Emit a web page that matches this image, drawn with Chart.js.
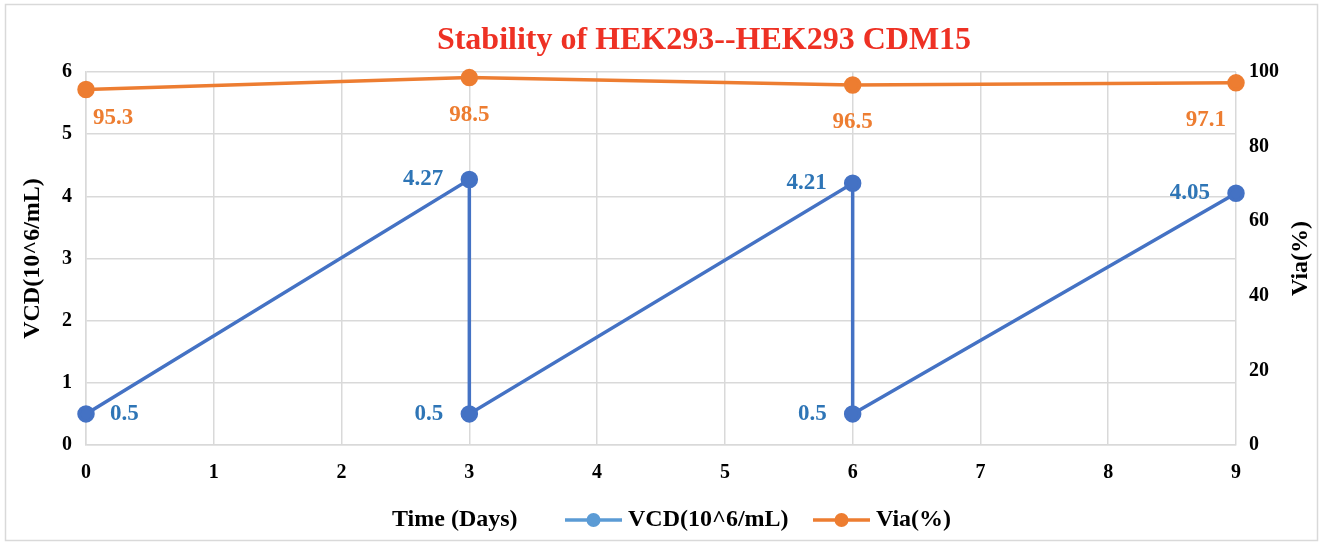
<!DOCTYPE html>
<html>
<head>
<meta charset="utf-8">
<script src="https://cdn.jsdelivr.net/npm/chart.js@4.4.1/dist/chart.umd.min.js"></script>
<style>
  body { margin: 0; background: #fff; }
</style>
</head>
<body>
<canvas id="stability" width="1322" height="542"></canvas>
<script>
// data
const vcdDays = [0, 3, 3, 6, 6, 9];
const vcdValues = [0.5, 4.27, 0.5, 4.21, 0.5, 4.05];
const viaDays = [0, 3, 6, 9];
const viaValues = [95.3, 98.5, 96.5, 97.1];
const dayTicks = [0, 1, 2, 3, 4, 5, 6, 7, 8, 9];

// where each data label sits relative to its point
const vcdLabelPos = ['right', 'left', 'left', 'left', 'left', 'left'];
const viaLabelPos = ['belowRight', 'below', 'below', 'belowLeft'];

const FONT = '"Liberation Serif", "Times New Roman", serif';
const BLUE = '#4472C4';
const BLUE_TXT = '#2E75B6';
const ORANGE = '#ED7D31';
const GRID = '#D9D9D9';

const toPoints = (xs, ys) => xs.map((x, i) => ({ x: x, y: ys[i] }));

// labels next to the points (no datalabels plugin offline)
const pointLabels = {
    id: 'pointLabels',
    afterDatasetsDraw(chart) {
        const ctx = chart.ctx;
        ctx.save();
        ctx.font = 'bold 23px ' + FONT;
        ctx.textBaseline = 'middle';
        chart.data.datasets.forEach((ds, di) => {
            const meta = chart.getDatasetMeta(di);
            meta.data.forEach((pt, i) => {
                const pos = ds.labelPos[i];
                let x = pt.x, y = pt.y;
                ctx.fillStyle = ds.labelColor;
                if (pos === 'right') { ctx.textAlign = 'left'; x += 24; }
                else if (pos === 'left') { ctx.textAlign = 'right'; x -= 26; }
                else if (pos === 'below') { ctx.textAlign = 'center'; y += 37; }
                else if (pos === 'belowRight') { ctx.textAlign = 'left'; x += 7; y += 29; }
                else if (pos === 'belowLeft') { ctx.textAlign = 'right'; x -= 10; y += 37; }
                ctx.fillText(String(ds.data[i].y), x, y);
            });
        });
        ctx.restore();
    }
};

// frame, title (sits right of centre in the original), right axis title,
// x-axis title and legend (same row, like in Excel)
const frameAndLegend = {
    id: 'frameAndLegend',
    beforeDraw(chart) {
        const ctx = chart.ctx;
        ctx.save();
        ctx.fillStyle = '#fff';
        ctx.fillRect(0, 0, chart.width, chart.height);
        ctx.strokeStyle = GRID;
        ctx.lineWidth = 1.5;
        ctx.strokeRect(5.5, 4.5, 1312, 536);
        ctx.restore();
    },
    afterDraw(chart) {
        const ctx = chart.ctx;
        const area = chart.chartArea;
        ctx.save();
        ctx.textBaseline = 'middle';

        ctx.font = 'bold 32px ' + FONT;
        ctx.fillStyle = '#EE3124';
        ctx.textAlign = 'center';
        ctx.fillText('Stability of HEK293--HEK293 CDM15', 704, 41);

        ctx.font = 'bold 24px ' + FONT;
        ctx.fillStyle = '#000';

        // right title reads bottom-to-top
        ctx.save();
        ctx.translate(1301, (area.top + area.bottom) / 2);
        ctx.rotate(-Math.PI / 2);
        ctx.textAlign = 'center';
        ctx.fillText('Via(%)', 0, 0);
        ctx.restore();

        const y = 520;
        ctx.textAlign = 'left';
        ctx.fillText('Time (Days)', 392, y);

        const items = [
            { text: 'VCD(10^6/mL)', color: '#5B9BD5', x: 565 },
            { text: 'Via(%)', color: ORANGE, x: 813 }
        ];
        items.forEach(it => {
            ctx.strokeStyle = it.color;
            ctx.lineWidth = 3.5;
            ctx.beginPath();
            ctx.moveTo(it.x, y);
            ctx.lineTo(it.x + 57, y);
            ctx.stroke();
            ctx.fillStyle = it.color;
            ctx.beginPath();
            ctx.arc(it.x + 28.5, y, 7, 0, Math.PI * 2);
            ctx.fill();
            ctx.fillStyle = '#000';
            ctx.fillText(it.text, it.x + 63, y);
        });
        ctx.restore();
    }
};

const ctx = document.getElementById('stability').getContext('2d');

const stabilityChart = new Chart(ctx, {
    type: 'line',
    data: {
        datasets: [
            {
                label: 'VCD(10^6/mL)',
                data: toPoints(vcdDays, vcdValues),
                yAxisID: 'y',
                borderColor: BLUE,
                backgroundColor: BLUE,
                borderWidth: 3.5,
                pointRadius: 7,
                pointHoverRadius: 7,
                tension: 0,
                clip: false,
                labelPos: vcdLabelPos,
                labelColor: BLUE_TXT
            },
            {
                label: 'Via(%)',
                data: toPoints(viaDays, viaValues),
                yAxisID: 'y1',
                borderColor: ORANGE,
                backgroundColor: ORANGE,
                borderWidth: 3.5,
                pointRadius: 7,
                pointHoverRadius: 7,
                tension: 0,
                clip: false,
                labelPos: viaLabelPos,
                labelColor: ORANGE
            }
        ]
    },
    options: {
        responsive: false,
        animation: false,
        layout: {
            padding: { top: 72, left: 0, right: 0, bottom: 57 }
        },
        plugins: {
            legend: { display: false },
            tooltip: { enabled: false },
            title: { display: false }
        },
        scales: {
            x: {
                type: 'linear',
                min: 0,
                max: 9,
                afterBuildTicks: s => { s.ticks = dayTicks.map(v => ({ value: v })); },
                afterFit: s => { s.height = 40; },
                grid: { color: GRID, lineWidth: 1.5, drawTicks: false },
                border: { color: GRID, width: 1.5 },
                ticks: {
                    color: '#000',
                    padding: 16,
                    font: { size: 20, weight: 'bold', family: FONT }
                }
            },
            y: {
                position: 'left',
                min: 0,
                max: 6,
                afterFit: s => { s.width = 86; },
                grid: { color: GRID, lineWidth: 1.5, drawTicks: false },
                border: { color: GRID, width: 1.5 },
                ticks: {
                    stepSize: 1,
                    color: '#000',
                    padding: 14,
                    font: { size: 20, weight: 'bold', family: FONT }
                },
                title: {
                    display: true,
                    text: 'VCD(10^6/mL)',
                    color: '#000',
                    padding: { top: 18, bottom: 0 },
                    font: { size: 24, weight: 'bold', family: FONT }
                }
            },
            y1: {
                position: 'right',
                min: 0,
                max: 100,
                afterFit: s => { s.width = 86; },
                grid: { display: false, drawTicks: false },
                border: { display: false },
                ticks: {
                    stepSize: 20,
                    color: '#000',
                    padding: 13,
                    font: { size: 20, weight: 'bold', family: FONT }
                }
            }
        }
    },
    plugins: [frameAndLegend, pointLabels]
});
</script>
</body>
</html>
